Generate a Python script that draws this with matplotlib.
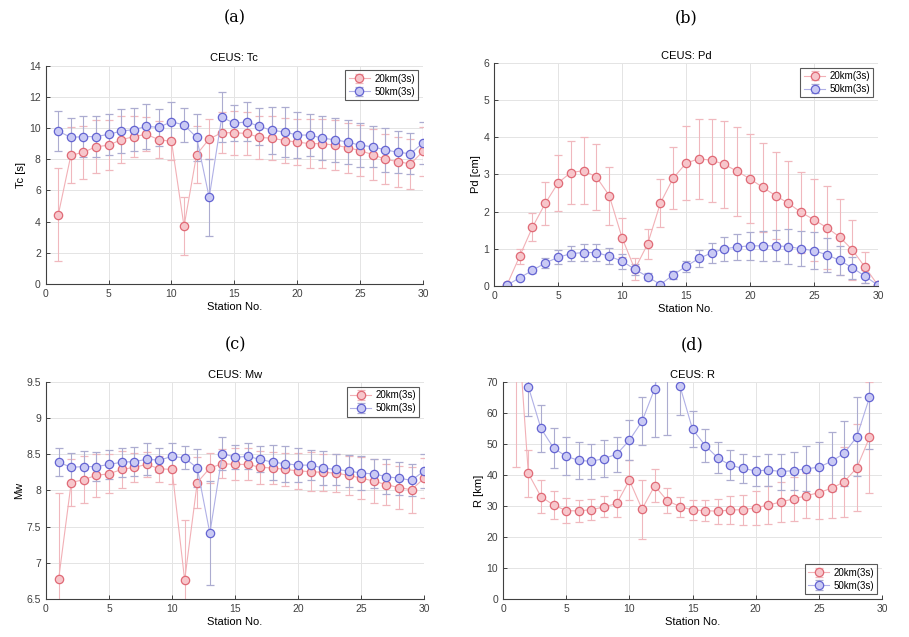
import numpy as np
import matplotlib.pyplot as plt

plt.rcParams['font.family'] = ['Liberation Sans', 'DejaVu Sans']

station = np.arange(1, 31)

# Tc [s]
tc_20 = [4.45, 8.25, 8.45, 8.8, 8.9, 9.25, 9.45, 9.6, 9.25, 9.15, 3.7, 8.3, 9.3, 9.7, 9.7,
         9.65, 9.4, 9.35, 9.2, 9.1, 9.0, 9.0, 8.9, 8.75, 8.55, 8.3, 8.0, 7.85, 7.7, 8.5]
tc_20_err = [3.0, 1.8, 1.7, 1.7, 1.6, 1.5, 1.3, 1.1, 1.2, 1.2, 1.85, 1.8, 1.3, 1.3, 1.4,
             1.35, 1.4, 1.4, 1.45, 1.5, 1.55, 1.55, 1.6, 1.6, 1.65, 1.65, 1.6, 1.6, 1.6, 1.55]
tc_50 = [9.8, 9.4, 9.45, 9.45, 9.6, 9.8, 9.9, 10.1, 10.05, 10.4, 10.2, 9.4, 5.55, 10.7, 10.3,
         10.4, 10.1, 9.85, 9.75, 9.55, 9.55, 9.35, 9.25, 9.1, 8.9, 8.8, 8.6, 8.45, 8.35, 9.05]
tc_50_err = [1.3, 1.25, 1.3, 1.3, 1.3, 1.4, 1.4, 1.45, 1.2, 1.3, 1.1, 1.5, 2.45, 1.6, 1.15,
             1.25, 1.2, 1.5, 1.6, 1.5, 1.35, 1.4, 1.4, 1.4, 1.4, 1.3, 1.4, 1.35, 1.3, 1.35]

# Pd [cm]
pd_20 = [0.02, 0.8, 1.58, 2.22, 2.77, 3.05, 3.1, 2.93, 2.43, 1.3, 0.45, 1.13, 2.23, 2.9, 3.3,
         3.42, 3.38, 3.27, 3.08, 2.88, 2.65, 2.43, 2.22, 1.98, 1.78, 1.57, 1.32, 0.97, 0.5, 0.02]
pd_20_err = [0.0, 0.2, 0.38, 0.58, 0.75, 0.85, 0.9, 0.88, 0.78, 0.52, 0.3, 0.4, 0.65, 0.83, 1.0,
             1.08, 1.12, 1.17, 1.2, 1.2, 1.2, 1.18, 1.15, 1.08, 1.1, 1.12, 1.02, 0.8, 0.42, 0.0]
pd_50 = [0.02, 0.22, 0.42, 0.62, 0.77, 0.87, 0.9, 0.9, 0.8, 0.67, 0.45, 0.25, 0.04, 0.3, 0.53,
         0.74, 0.89, 1.0, 1.05, 1.08, 1.08, 1.08, 1.06, 1.0, 0.95, 0.84, 0.69, 0.49, 0.26, 0.02]
pd_50_err = [0.0, 0.05, 0.08, 0.14, 0.19, 0.2, 0.22, 0.24, 0.22, 0.2, 0.15, 0.1, 0.03, 0.1, 0.15,
             0.22, 0.27, 0.32, 0.35, 0.37, 0.4, 0.42, 0.46, 0.47, 0.5, 0.45, 0.39, 0.3, 0.18, 0.0]

# Mw
mw_20 = [6.77, 8.11, 8.15, 8.21, 8.23, 8.29, 8.32, 8.36, 8.3, 8.29, 6.76, 8.11, 8.31, 8.37, 8.36,
         8.36, 8.32, 8.31, 8.29, 8.27, 8.26, 8.25, 8.24, 8.21, 8.17, 8.13, 8.08, 8.04, 8.01, 8.17]
mw_20_err = [1.2, 0.33, 0.32, 0.3, 0.27, 0.25, 0.2, 0.17, 0.18, 0.2, 0.83, 0.35, 0.21, 0.2, 0.22,
             0.22, 0.23, 0.22, 0.23, 0.25, 0.27, 0.26, 0.26, 0.27, 0.29, 0.3, 0.28, 0.3, 0.32, 0.28]
mw_50 = [8.39, 8.32, 8.33, 8.33, 8.36, 8.39, 8.4, 8.43, 8.42, 8.47, 8.45, 8.31, 7.41, 8.51, 8.46,
         8.47, 8.43, 8.39, 8.37, 8.35, 8.35, 8.31, 8.29, 8.27, 8.24, 8.23, 8.19, 8.17, 8.14, 8.27]
mw_50_err = [0.19, 0.2, 0.21, 0.2, 0.2, 0.2, 0.2, 0.22, 0.17, 0.19, 0.16, 0.26, 0.72, 0.23, 0.17,
             0.18, 0.18, 0.24, 0.25, 0.23, 0.21, 0.24, 0.22, 0.22, 0.23, 0.2, 0.24, 0.23, 0.22, 0.23]

# R [km]
r_20 = [100, 40.5, 33, 30.3, 28.5, 28.4, 28.8, 29.7, 30.8, 38.3, 29, 36.5, 31.7, 29.8, 28.7,
        28.5, 28.3, 28.7, 28.8, 29.4, 30.3, 31.3, 32.3, 33.3, 34.3, 35.7, 37.8, 42.3, 52.1, np.nan]
r_20_err = [57.5, 7.5, 5.3, 4.6, 4.1, 3.6, 3.3, 3.4, 4.2, 6.4, 9.5, 5.3, 4, 3.2, 3.2,
            3.5, 4, 4.5, 4.8, 5.4, 6, 6.5, 7, 7.3, 8.5, 9.5, 11.3, 14, 18, np.nan]
r_50 = [np.nan, 68.5, 55, 48.7, 46, 44.7, 44.4, 45.3, 46.7, 51.2, 57.3, 67.8, 90, 68.7, 54.7,
        49.5, 45.5, 43.1, 42.1, 41.3, 41.6, 41.1, 41.4, 42, 42.5, 44.4, 47, 52.3, 65, np.nan]
r_50_err = [np.nan, 9.6, 7.6, 6.4, 6.1, 6, 5.7, 6, 5.7, 6.5, 7.7, 15.5, 37, 9.5, 5.8,
            5.3, 5, 4.8, 4.8, 4.9, 5.2, 5.8, 6.1, 7.3, 8, 9.5, 10.5, 12.7, 16.5, np.nan]

labels = ['20km(3s)', '50km(3s)']

fig = plt.figure(figsize=(9.09, 6.37), dpi=100)


def panel(rect, y20, e20, y50, e50, title, ylabel, ylim, yticks, ytl, loc, tag, tag_y):
    ax = fig.add_axes(rect)
    ax.errorbar(station, y20, yerr=e20, fmt='-o', color='#f2b0b6', ecolor='#f0b8be',
                mfc='#f7c6cb', mec='#e06a76', ms=6, mew=0.9, lw=0.8, elinewidth=0.8,
                capsize=3, capthick=0.7, label=labels[0])
    ax.errorbar(station, y50, yerr=e50, fmt='-o', color='#b0b0e6', ecolor='#acacd0',
                mfc='#cacaf4', mec='#6464d2', ms=6, mew=0.9, lw=0.8, elinewidth=0.8,
                capsize=3, capthick=0.7, label=labels[1])
    ax.set_xlim(0, 30)
    ax.set_ylim(*ylim)
    ax.set_xticks(range(0, 31, 5))
    ax.set_yticks(yticks)
    ax.set_yticklabels(ytl)
    ax.grid(True, color='#e4e4e4', lw=0.7)
    ax.set_axisbelow(True)
    for s in ['top', 'right']:
        ax.spines[s].set_visible(False)
    for s in ['left', 'bottom']:
        ax.spines[s].set_color('#404040')
        ax.spines[s].set_linewidth(0.8)
    ax.tick_params(direction='in', length=3, labelsize=7.5, colors='#404040', width=0.7)
    ax.set_title(title, fontsize=8, pad=3)
    ax.set_xlabel('Station No.', fontsize=8, labelpad=2)
    ax.set_ylabel(ylabel, fontsize=8, labelpad=2)
    leg = ax.legend(loc=loc, fontsize=7, frameon=True, fancybox=False, borderpad=0.35,
                    handlelength=2.2, handletextpad=0.4, labelspacing=0.3)
    leg.get_frame().set_edgecolor('#303030')
    leg.get_frame().set_linewidth(0.8)
    # panel tag
    fig.text(rect[0] + rect[2] / 2, tag_y, tag, ha='center', va='center',
             fontsize=11.5, family='DejaVu Serif')
    return ax


top_tag = 1 - 18 / 637
bot_tag = 1 - 345 / 637

panel([0.0503, 0.554, 0.415, 0.343], tc_20, tc_20_err, tc_50, tc_50_err, 'CEUS: Tc', 'Tc [s]',
      (0, 14), range(0, 15, 2), [str(v) for v in range(0, 15, 2)], 'upper right', '(a)', top_tag)
panel([0.5435, 0.551, 0.4224, 0.3505], pd_20, pd_20_err, pd_50, pd_50_err, 'CEUS: Pd', 'Pd [cm]',
      (0, 6), range(0, 7), [str(v) for v in range(0, 7)], 'upper right', '(b)', top_tag)
mw_ticks = [6.5, 7, 7.5, 8, 8.5, 9, 9.5]
panel([0.0506, 0.0597, 0.416, 0.3407], mw_20, mw_20_err, mw_50, mw_50_err, 'CEUS: Mw', 'Mw',
      (6.5, 9.5), mw_ticks, ['6.5', '7', '7.5', '8', '8.5', '9', '9.5'], 'upper right', '(c)', bot_tag)
panel([0.5534, 0.0597, 0.417, 0.3407], r_20, r_20_err, r_50, r_50_err, 'CEUS: R', 'R [km]',
      (0, 70), range(0, 71, 10), [str(v) for v in range(0, 71, 10)], 'lower right', '(d)', bot_tag)

fig.savefig('out.png', dpi=100)
